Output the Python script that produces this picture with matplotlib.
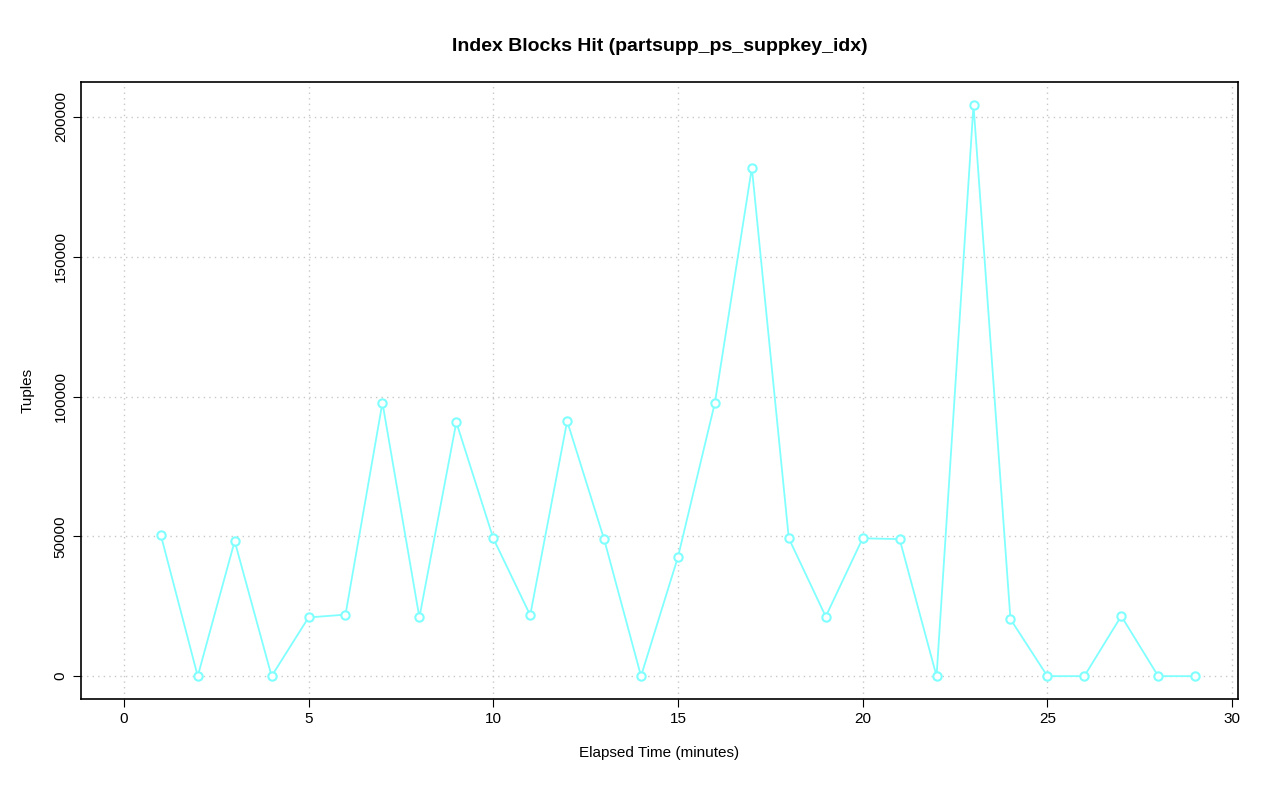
import matplotlib.pyplot as plt

minutes = list(range(1, 30))
tuples = [50500, 0, 48300, 0, 21000, 22000, 97800, 21000, 90800, 49300,
          21800, 91200, 49000, 0, 42600, 97800, 181800, 49300, 21300, 49300,
          49000, 0, 204300, 20400, 0, 0, 21500, 0, 0]

plt.rcParams['font.family'] = ['Liberation Sans', 'DejaVu Sans']
fig = plt.figure(figsize=(12.8, 8.01), dpi=100)
ax = fig.add_axes([81 / 1280, 1 - 699 / 801, (1238 - 81) / 1280, (699 - 82) / 801])

ax.plot(minutes, tuples, color='#80ffff', lw=1.3, zorder=2)
ax.plot(minutes, tuples, ls='none', marker='o', ms=6, mfc='white',
        mec='#80ffff', mew=1.5, zorder=3)

ax.set_xlim(-1.16, 30.16)
ax.set_ylim(-8172, 212472)
ax.set_xticks(range(0, 31, 5))
ax.set_yticks(range(0, 200001, 50000))
ax.set_yticklabels([str(v) for v in range(0, 200001, 50000)], rotation=90, va='center')
ax.grid(True, color='#c8c8c8', ls=(0, (1, 3)), lw=1)
for s in ax.spines.values():
    s.set_linewidth(1.2)
ax.tick_params(labelsize=11, length=6)

ax.set_title('Index Blocks Hit (partsupp_ps_suppkey_idx)', fontsize=14,
             fontweight='bold', pad=22)
ax.set_xlabel('Elapsed Time (minutes)', fontsize=11, labelpad=14)
ax.set_ylabel('Tuples', fontsize=11, labelpad=14)

fig.savefig('out.png')
